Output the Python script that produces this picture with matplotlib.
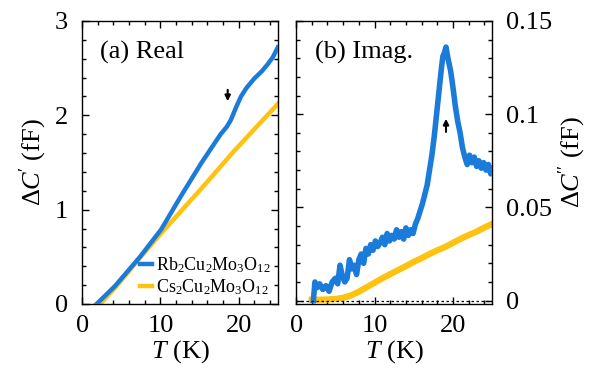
import matplotlib
matplotlib.use("Agg")
import matplotlib.pyplot as plt
from matplotlib.ticker import MultipleLocator

plt.rcParams['font.family'] = 'serif'
plt.rcParams['font.serif'] = ['Liberation Serif', 'DejaVu Serif']
plt.rcParams['mathtext.fontset'] = 'custom'
plt.rcParams['mathtext.rm'] = 'Liberation Serif'
plt.rcParams['mathtext.it'] = 'Liberation Serif:italic'

blue = '#1a7bdb'
gold = '#ffc20e'

# (a) real part
t_rb_re = [1.85, 4.2, 7.4, 10.1, 12.6, 15.2, 17.7, 18.5, 19.0, 19.7, 20.3, 21.0, 22.0, 23.0, 23.7, 24.4, 25.0]
c_rb_re = [0.0, 0.19, 0.50, 0.79, 1.14, 1.49, 1.80, 1.88, 1.95, 2.09, 2.20, 2.29, 2.39, 2.47, 2.54, 2.62, 2.72]
t_cs_re = [2.3, 4.2, 7.4, 10.1, 15.2, 19.4, 25.0]
c_cs_re = [0.0, 0.17, 0.49, 0.75, 1.22, 1.62, 2.12]

# (b) imaginary part (x1e-3 fF)
t_rb_im = [2.2, 2.4, 2.7, 3.0, 3.4, 3.8, 4.2, 4.6, 5.0, 5.3, 5.6, 5.9, 6.2, 6.5, 6.8, 7.1,
           7.4, 7.7, 8.0, 8.3, 8.6, 8.9, 9.2, 9.5, 9.8, 10.1, 10.4, 10.7, 11.0, 11.3, 11.6,
           11.9, 12.2, 12.5, 12.8, 13.1, 13.4, 13.7, 14.0, 14.3, 14.6, 14.9, 15.2, 15.5,
           15.8, 16.1, 16.4, 16.7, 17.0, 17.3, 17.6, 17.9, 18.2, 18.5, 18.7, 18.9, 19.1,
           19.3, 19.5, 19.7, 20.0, 20.3, 20.6, 20.9, 21.2, 21.5, 21.8, 22.1, 22.4, 22.7,
           23.0, 23.3, 23.6, 23.9, 24.2, 24.5, 24.8, 25.0]
c_rb_im = [0, 10, 7, 9, 6, 8, 5, 10, 12, 9, 19, 13, 10, 12, 22, 17,
           19, 14, 22, 25, 20, 28, 25, 30, 27, 32, 29, 31, 34, 30, 36,
           32, 35, 33, 38, 34, 37, 33, 39, 35, 38, 36, 41, 44,
           48, 52, 57, 62, 70, 78, 88, 100, 112, 124, 131, 133, 136,
           131, 127, 123, 114, 104, 96, 90, 82, 77, 73, 78, 74, 77,
           72, 75, 71, 74, 70, 73, 68, 71]
t_cs_im = [2.0, 3.0, 4.0, 5.0, 6.0, 7.0, 8.0, 9.0, 10.0, 11.0, 12.0, 13.0, 14.0, 15.0,
           16.0, 17.0, 18.0, 19.0, 20.0, 21.0, 22.0, 23.0, 24.0, 25.0]
c_cs_im = [0.5, 0.5, 0.6, 0.9, 1.5, 2.8, 4.8, 7.2, 9.6, 12.0, 14.2, 16.4, 18.5, 20.8,
           22.8, 25.0, 27.0, 28.8, 31.0, 33.2, 35.2, 37.0, 39.2, 41.2]

fig = plt.figure(figsize=(5.91, 3.68), dpi=100)
ax1 = fig.add_axes([0.139, 0.174, 0.331, 0.769])
ax2 = fig.add_axes([0.501, 0.174, 0.332, 0.769])

fs = 19

ax1.plot(t_rb_re, c_rb_re, color=blue, lw=3.2, label=r'Rb$_2$Cu$_2$Mo$_3$O$_{12}$', zorder=3)
ax1.plot(t_cs_re, c_cs_re, color=gold, lw=3.2, label=r'Cs$_2$Cu$_2$Mo$_3$O$_{12}$', zorder=2)
ax1.set_xlim(0, 25)
ax1.set_ylim(0, 3)
ax1.annotate('', xy=(18.6, 2.12), xytext=(18.6, 2.3),
             arrowprops=dict(arrowstyle='-|>', color='k', lw=1.5, mutation_scale=8))
ax1.text(2.3, 2.67, '(a) Real', fontsize=fs, va='center')
ax1.set_ylabel(r'$\mathit{\Delta C}$$^{\prime}$ (fF)', fontsize=fs, labelpad=4)
ax1.set_xlabel(r'$\mathit{T}$ (K)', fontsize=fs, labelpad=1)
leg = ax1.legend(loc='lower right', fontsize=13, frameon=False, handlelength=0.7,
                 handletextpad=0.2, borderaxespad=0.0, labelspacing=0.1)

ax2.plot(t_rb_im, [v / 1000 for v in c_rb_im], color=blue, lw=4, zorder=3)
ax2.plot(t_cs_im, [v / 1000 for v in c_cs_im], color=gold, lw=4.5, zorder=2)
ax2.axhline(0, color='k', ls=(0, (2, 2)), lw=0.9, zorder=4)
ax2.set_xlim(0, 25)
ax2.set_ylim(-0.0018, 0.15)
ax2.annotate('', xy=(19.1, 0.099), xytext=(19.1, 0.089),
             arrowprops=dict(arrowstyle='-|>', color='k', lw=1.5, mutation_scale=8))
ax2.text(2.4, 0.133, '(b) Imag.', fontsize=fs, va='center')
ax2.yaxis.set_label_position('right')
ax2.set_ylabel(r'$\mathit{\Delta C}$$^{\prime\prime}$ (fF)', fontsize=fs, labelpad=3)
ax2.set_xlabel(r'$\mathit{T}$ (K)', fontsize=fs, labelpad=1)

ax1.xaxis.set_major_locator(MultipleLocator(10))
ax1.xaxis.set_minor_locator(MultipleLocator(2))
ax1.yaxis.set_major_locator(MultipleLocator(1))
ax1.yaxis.set_minor_locator(MultipleLocator(0.2))
ax2.xaxis.set_major_locator(MultipleLocator(10))
ax2.xaxis.set_minor_locator(MultipleLocator(2))
ax2.yaxis.set_minor_locator(MultipleLocator(0.01))
ax2.set_yticks([0, 0.05, 0.1, 0.15])
ax2.set_yticklabels(['0', '0.05', '0.1', '0.15'])

for ax in (ax1, ax2):
    ax.tick_params(which='both', direction='in', top=True, right=True, left=True,
                   labelsize=fs, width=1)
    ax.tick_params(which='major', length=5)
    ax.tick_params(which='minor', length=3)
    ax.tick_params(axis='x', which='major', pad=8)
    ax.tick_params(axis='y', which='major', pad=10)
    for s in ax.spines.values():
        s.set_linewidth(1)
ax2.tick_params(axis='y', labelleft=False, labelright=True)

fig.savefig('out.png', dpi=100)
